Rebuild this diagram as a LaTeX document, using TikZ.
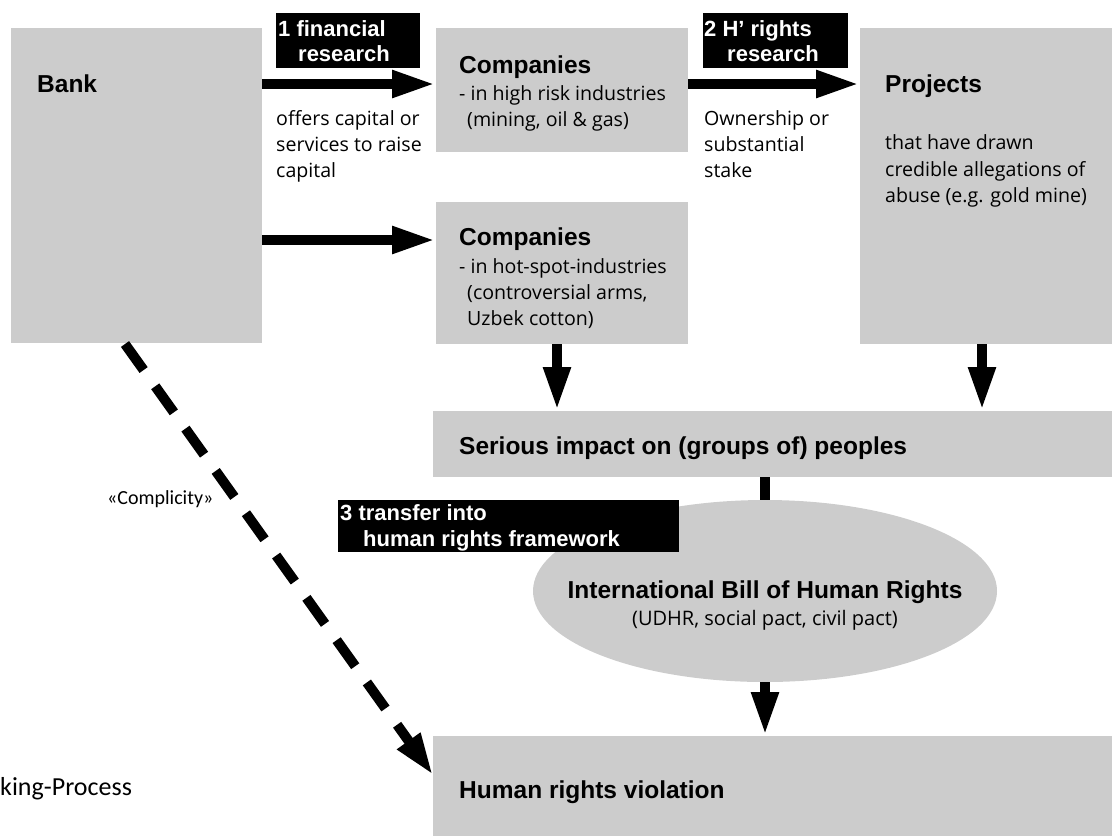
\documentclass[tikz,border=0pt]{standalone}
\usepackage{fontspec}
\setmainfont{Open Sans}
\newfontfamily\headfont{Liberation Sans}
\newfontfamily\calfont{Carlito}
\usetikzlibrary{arrows.meta,shapes.geometric}
\definecolor{boxgray}{HTML}{CCCCCC}
\begin{document}
\begin{tikzpicture}[x=1pt,y=-1pt,
  graybox/.style={fill=boxgray,draw=none,inner sep=0pt,outer sep=0pt,anchor=north west},
  blackbox/.style={fill=black,draw=none,inner sep=0pt,outer sep=0pt,anchor=north west},
  headtxt/.style={anchor=base west,inner sep=0pt,font=\headfont\bfseries\fontsize{24.5}{28}\selectfont},
  labtxt/.style={anchor=base west,inner sep=0pt,text=white,font=\headfont\bfseries\fontsize{22}{26}\selectfont},
  bodytxt/.style={anchor=base west,inner sep=0pt,font=\fontsize{19.6}{26}\selectfont},
  bigarrow/.style={line width=10.5pt,-{Triangle[length=44pt,width=25pt]}},
  dasharrow/.style={line width=10pt,dash pattern=on 32pt off 20pt,-{Triangle[length=42pt,width=26pt]}}
]
\useasboundingbox (0,0) rectangle (1115,836);
% boxes
\node[graybox,minimum width=251pt,minimum height=315pt] (bank) at (11,28) {};
\node[graybox,minimum width=252pt,minimum height=124pt] (comp1) at (436,28) {};
\node[graybox,minimum width=252pt,minimum height=142pt] (comp2) at (436,202) {};
\node[graybox,minimum width=252pt,minimum height=316pt] (proj) at (860,28) {};
\node[graybox,minimum width=679pt,minimum height=66pt] (impact) at (433,411) {};
\node[graybox,minimum width=679pt,minimum height=100pt] (hrv) at (433,736) {};
% connector impact -> ellipse (behind ellipse)
\coordinate (c765) at (765,0);
\draw[line width=10pt] (impact.south -| c765) -- (765,520);
\node[ellipse,fill=boxgray,draw=none,inner sep=0pt,minimum width=464pt,minimum height=182pt] (bill) at (765,591) {};
% helper coordinates
\coordinate (y84) at (0,84);
\coordinate (y240) at (0,240);
\coordinate (x557) at (557,0);
\coordinate (x982) at (982,0);
\coordinate (dstart) at (125,344);
\coordinate (dend) at (433,775);
% arrows
\draw[bigarrow] (bank.east |- y84) -- (comp1.west |- y84);
\draw[bigarrow] (bank.east |- y240) -- (comp2.west |- y240);
\draw[bigarrow] (comp1.east |- y84) -- (proj.west |- y84);
\draw[bigarrow] (comp2.south -| x557) -- (impact.north -| x557);
\draw[bigarrow] (proj.south -| x982) -- (impact.north -| x982);
\draw[bigarrow] (bill.south) -- (hrv.north -| bill.south);
\draw[dasharrow] (dstart) -- (dend);
% black labels
\node[blackbox,minimum width=144pt,minimum height=55pt] (lab1) at (276,13) {};
\node[blackbox,minimum width=145pt,minimum height=55pt] (lab2) at (703,13) {};
\node[blackbox,minimum width=341pt,minimum height=52pt] (lab3) at (338,500) {};
\node[labtxt] (l1a) at (278,36) {1 financial};
\node[labtxt] (l1b) at (298,61) {research};
\node[labtxt] (l2a) at (704,36) {2 H’ rights};
\node[labtxt] (l2b) at (727,61) {research};
\node[labtxt] (l3a) at (340,520) {3 transfer into};
\node[labtxt] (l3b) at (363,546) {human rights framework};
% texts
\node[headtxt] (tbank) at (37,92) {Bank};
\node[headtxt] (tc1) at (459,73) {Companies};
\node[bodytxt] (tc1a) at (459,100) {- in high risk industries};
\node[bodytxt] (tc1b) at (467,126) {(mining, oil \& gas)};
\node[bodytxt] (to1) at (276,125) {offers capital or};
\node[bodytxt] (to2) at (276,151) {services to raise};
\node[bodytxt] (to3) at (276,177) {capital};
\node[headtxt] (tc2) at (459,245) {Companies};
\node[bodytxt] (tc2a) at (459,273) {- in hot-spot-industries};
\node[bodytxt] (tc2b) at (467,299) {(controversial arms,};
\node[bodytxt] (tc2c) at (467,325) {Uzbek cotton)};
\node[bodytxt] (tw1) at (704,125) {Ownership or};
\node[bodytxt] (tw2) at (704,151) {substantial};
\node[bodytxt] (tw3) at (704,177) {stake};
\node[headtxt] (tp) at (885,92) {Projects};
\node[bodytxt] (tp1) at (885,149) {that have drawn};
\node[bodytxt] (tp2) at (885,176) {credible allegations of};
\node[bodytxt] (tp3) at (885,202) {abuse (e.g. gold mine)};
\node[headtxt] (timp) at (459,454) {Serious impact on (groups of) peoples};
\node[anchor=base,inner sep=0pt,font=\headfont\bfseries\fontsize{24.5}{28}\selectfont] (tbill) at (765,598) {International Bill of Human Rights};
\node[anchor=base,inner sep=0pt,font=\fontsize{20}{24}\selectfont] (tbill2) at (765,625) {(UDHR, social pact, civil pact)};
\node[headtxt] (thrv) at (459,798) {Human rights violation};
\node[anchor=base west,inner sep=0pt,font=\calfont\fontsize{20}{24}\selectfont] (tcompl) at (107,504) {«Complicity»};
\node[anchor=base west,inner sep=0pt,font=\calfont\fontsize{26}{30}\selectfont] (tking) at (0,795) {king-Process};
\end{tikzpicture}
\end{document}
